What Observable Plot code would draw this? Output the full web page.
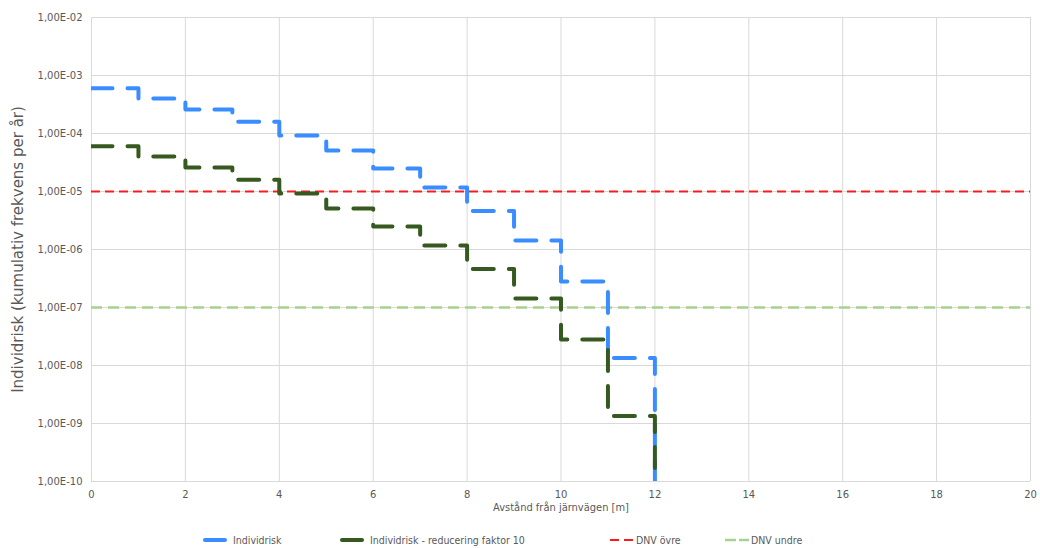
<!DOCTYPE html>
<html><head><meta charset="utf-8">
<script src="https://cdn.jsdelivr.net/npm/d3@7"></script>
<script src="https://cdn.jsdelivr.net/npm/@observablehq/plot@0.6"></script>
<style>
body{margin:0;background:#fff;}
#chart{position:relative;width:1040px;height:548px;overflow:hidden;}
.leg{position:absolute;top:533px;height:14px;font:10.5px "DejaVu Sans Condensed","DejaVu Sans",sans-serif;color:#595959;display:flex;align-items:center;white-space:nowrap;}
.leg svg{margin-right:6px;}
</style></head><body><div id="chart"></div>
<script>
// Data
const distance = [0,1,2,3,4,5,6,7,8,9,10,11,12];
const individrisk = [6.0e-4,4.0e-4,2.6e-4,1.6e-4,9.2e-5,5.1e-5,2.5e-5,1.17e-5,4.6e-6,1.43e-6,2.8e-7,1.35e-8,1e-10];
const individriskReducerad = [6.0e-5,4.0e-5,2.6e-5,1.6e-5,9.2e-6,5.1e-6,2.5e-6,1.17e-6,4.6e-7,1.43e-7,2.8e-8,1.35e-9,1e-10];
const dnvOvre = [1e-5];
const dnvUndre = [1e-7];
const xTicks = [0,2,4,6,8,10,12,14,16,18,20];
const yTicks = [1e-10,1e-9,1e-8,1e-7,1e-6,1e-5,1e-4,1e-3,1e-2];
const seriesNames = ["Individrisk","Individrisk - reducering faktor 10","DNV övre","DNV undre"];
const colors = ["#3a8dff","#36591f","#ff1a1a","#a9d18e"];

const rowsA = distance.map((d,i)=>({x:d,y:individrisk[i]}));
const rowsB = distance.map((d,i)=>({x:d,y:individriskReducerad[i]}));
const fmt = d => "1,00E-" + String(-Math.round(Math.log10(d))).padStart(2,"0");

const plot = Plot.plot({
  width:1040, height:525,
  marginLeft:91, marginRight:10, marginTop:17, marginBottom:44,
  style:{fontFamily:"DejaVu Sans, sans-serif", fontSize:"10px", color:"#595959", background:"white"},
  x:{domain:[0,20], ticks:xTicks, label:null},
  y:{type:"log", domain:[1e-10,1e-2], ticks:yTicks, label:null, tickFormat:fmt},
  marks:[
    Plot.gridX(xTicks,{stroke:"#d9d9d9", strokeOpacity:1}),
    Plot.gridY(yTicks,{stroke:"#d9d9d9", strokeOpacity:1}),
    Plot.axisX(xTicks,{tickSize:0, tickPadding:9, label:null, fill:"#595959"}),
    Plot.axisY(yTicks,{tickSize:0, tickPadding:9, label:null, tickFormat:fmt, fill:"#595959"}),
    Plot.text(["Avstånd från järnvägen [m]"],{frameAnchor:"bottom", dy:29, fontSize:11, fill:"#595959", fontFamily:"DejaVu Sans Condensed, DejaVu Sans, sans-serif"}),
    Plot.text(["Individrisk (kumulativ frekvens per år)"],{frameAnchor:"left", textAnchor:"middle", rotate:-90, dx:-73, fontSize:15, fill:"#595959"}),
    Plot.ruleY(dnvUndre,{stroke:colors[3], strokeWidth:2.5, strokeDasharray:"11,6"}),
    Plot.ruleY(dnvOvre,{stroke:colors[2], strokeWidth:2, strokeDasharray:"9,5"}),
    Plot.line(rowsA,{x:"x", y:"y", curve:"step-after", stroke:colors[0], strokeWidth:4, strokeDasharray:"21,15", strokeLinecap:"round", strokeLinejoin:"round", clip:true}),
    Plot.line(rowsB,{x:"x", y:"y", curve:"step-after", stroke:colors[1], strokeWidth:4, strokeDasharray:"21,15", strokeLinecap:"round", strokeLinejoin:"round", clip:true})
  ]
});
const chart = document.getElementById("chart");
chart.appendChild(plot);

const legendPos = [203, 340, 610, 725];
const swatch = [
  '<line x1="2" y1="7" x2="22" y2="7" stroke="'+colors[0]+'" stroke-width="4" stroke-linecap="round"/>',
  '<line x1="2" y1="7" x2="22" y2="7" stroke="'+colors[1]+'" stroke-width="4" stroke-linecap="round"/>',
  '<line x1="0" y1="7" x2="24" y2="7" stroke="'+colors[2]+'" stroke-width="2" stroke-dasharray="9,5"/>',
  '<line x1="0" y1="7" x2="24" y2="7" stroke="'+colors[3]+'" stroke-width="2.5" stroke-dasharray="11,3"/>'
];
seriesNames.forEach((n,i)=>{
  const d = document.createElement("div");
  d.className = "leg";
  d.style.left = legendPos[i] + "px";
  d.innerHTML = '<svg width="24" height="14">'+swatch[i]+'</svg><span>'+n+'</span>';
  if (i>=2) d.querySelector("svg").style.marginRight = "2px";
  chart.appendChild(d);
});
</script>
</body></html>
